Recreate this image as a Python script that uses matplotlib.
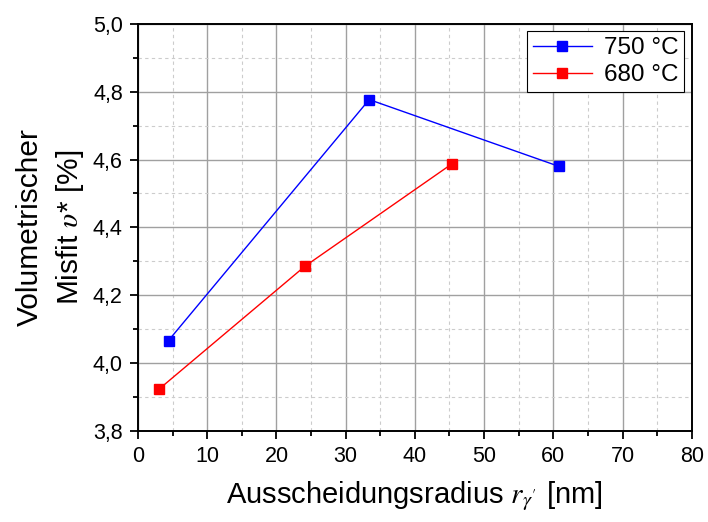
import matplotlib
matplotlib.use("Agg")
import matplotlib.pyplot as plt
from matplotlib.ticker import MultipleLocator, FuncFormatter

plt.rcParams['font.family'] = ['Liberation Sans', 'DejaVu Sans']
plt.rcParams['mathtext.fontset'] = 'stix'

x_750 = [4.4, 33.4, 60.8]
y_750 = [4.066, 4.777, 4.58]
x_680 = [3.0, 24.1, 45.4]
y_680 = [3.922, 4.285, 4.588]
labels = ['750 °C', '680 °C']

fig = plt.figure(figsize=(7.08, 5.22), dpi=100)
ax = fig.add_axes([0.195, 0.175, 0.782, 0.779])

ax.plot(x_750, y_750, color='#0000ff', lw=1.0, marker='s', ms=7.5, label=labels[0], zorder=3)
ax.plot(x_680, y_680, color='#ff0000', lw=1.0, marker='s', ms=7.5, label=labels[1], zorder=3)

ax.set_xlim(0, 80)
ax.set_ylim(3.8, 5.0)
ax.xaxis.set_major_locator(MultipleLocator(10))
ax.xaxis.set_minor_locator(MultipleLocator(5))
ax.yaxis.set_major_locator(MultipleLocator(0.2))
ax.yaxis.set_minor_locator(MultipleLocator(0.1))
ax.yaxis.set_major_formatter(FuncFormatter(lambda v, p: f"{v:.1f}".replace('.', ',')))

ax.grid(True, which='major', color='#a0a0a0', lw=1.0, ls='-')
ax.grid(True, which='minor', color='#cccccc', lw=0.8, ls=(0, (3, 3)))
ax.set_axisbelow(True)

ax.tick_params(which='both', direction='out', top=False, right=False, labelsize=15.5, width=1.3)
ax.tick_params(which='major', length=6, pad=5)
ax.tick_params(which='minor', length=3.5)
for s in ax.spines.values():
    s.set_linewidth(1.4)

ax.set_xlabel(r"Ausscheidungsradius $r_{\gamma'}$ [nm]", fontsize=21, labelpad=9)
ax.set_ylabel("Volumetrischer\nMisfit $\\upsilon$* [%]", fontsize=21.5, labelpad=5, linespacing=1.4)

leg = ax.legend(loc='upper right', fontsize=17.5, frameon=True, fancybox=False,
                edgecolor='black', framealpha=1, borderaxespad=0.3, handlelength=2.4,
                handletextpad=0.5, borderpad=0.25, labelspacing=0.2)
leg.get_frame().set_linewidth(0.8)

fig.savefig("out.png", dpi=100)
